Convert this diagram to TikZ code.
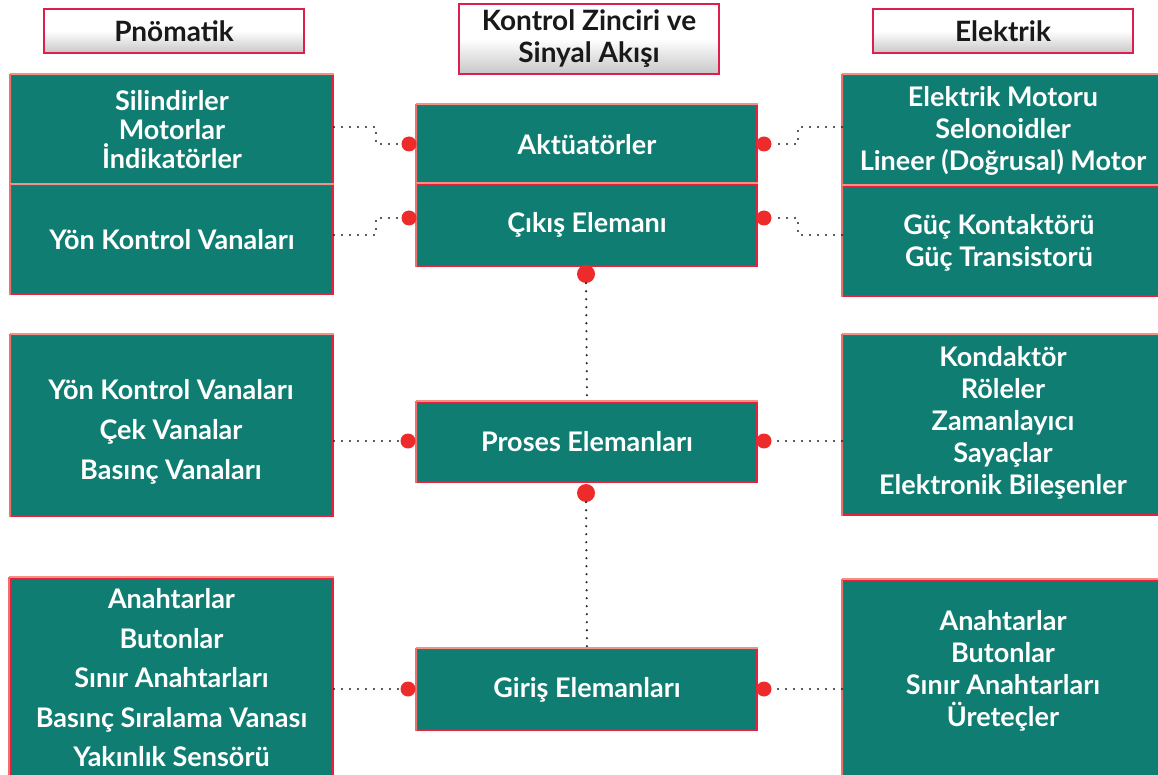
\documentclass[tikz,border=0pt]{standalone}
\usepackage{fontspec}
\setmainfont{Lato}
\definecolor{tealbox}{HTML}{0F7D72}
\definecolor{rededge}{HTML}{E8213F}
\definecolor{salmonedge}{HTML}{F39282}
\definecolor{dotred}{HTML}{EE2B2B}
\definecolor{hdredge}{HTML}{DC1F4C}
\newcommand{\bx}[1]{\fontsize{27}{#1}\selectfont\bfseries}
\begin{document}
\begin{tikzpicture}[x=1pt,y=-1pt,
  gbox/.style={fill=tealbox, draw=rededge, line width=2pt, inner sep=0pt, align=center,
    text=white, anchor=north west},
  gtext/.style={text=white, align=center, inner sep=0pt},
  hbox/.style={top color=white, bottom color=black!22, middle color=white, draw=hdredge,
    line width=2pt, inner sep=0pt, align=center, anchor=north west, text=black!90,
    font=\fontsize{28}{32}\selectfont\bfseries},
  rdot/.style={circle, fill=dotred, inner sep=0pt, minimum size=15pt},
  bigdot/.style={circle, fill=dotred, inner sep=0pt, minimum size=18pt},
  dotline/.style={line width=2.4pt, line cap=round, dash pattern=on 0pt off 8pt, black!85}]
\useasboundingbox (0,0) rectangle (1158,775);
\fill[white] (0,0) rectangle (1158,775);

% headers
\node[hbox, minimum width=260pt, minimum height=44pt] (hp) at (43,8) {Pnömatik};
\node[hbox, minimum width=260pt, minimum height=70pt] (hk) at (458,3) {Kontrol Zinciri ve\\Sinyal Akışı};
\node[hbox, minimum width=260pt, minimum height=44pt] (he) at (872,8) {Elektrik};

% left column
\node[gbox, minimum width=322pt, minimum height=109pt, font=\bx{29}] (L1) at (10,74) {Silindirler\\Motorlar\\İndikatörler};
\node[gbox, minimum width=322pt, minimum height=109pt, font=\bx{32}] (L2) at (10,184) {Yön Kontrol Vanaları};
\node[gbox, minimum width=322pt, minimum height=181pt] (L3) at (10,334) {};
\node[gtext, font=\bx{40}] (L3t) at (171,432) {Yön Kontrol Vanaları\\Çek Vanalar\\Basınç Vanaları};
\node[gbox, minimum width=323pt, minimum height=200pt, font=\bx{39.5}] (L4) at (9,577) {Anahtarlar\\Butonlar\\Sınır Anahtarları\\Basınç Sıralama Vanası\\Yakınlık Sensörü};

% center column
\node[gbox, minimum width=340pt, minimum height=79pt, font=\bx{32}] (akt) at (416,104) {Aktüatörler};
\node[gbox, minimum width=340pt, minimum height=82pt, font=\bx{32}] (cik) at (416,183) {Çıkış Elemanı};
\node[gbox, minimum width=340pt, minimum height=80pt, font=\bx{32}] (pro) at (416,401) {Proses Elemanları};
\node[gbox, minimum width=340pt, minimum height=81pt, font=\bx{32}] (gir) at (416,648) {Giriş Elemanları};

% right column
\node[gbox, minimum width=322pt, minimum height=110pt] (R1) at (842,74) {};
\node[gtext, font=\bx{32}] (R1t) at (1003,131) {Elektrik Motoru\\Selonoidler\\Lineer (Doğrusal) Motor};
\node[gbox, minimum width=322pt, minimum height=110pt] (R2) at (842,185) {};
\node[gtext, font=\bx{32}] (R2t) at (999,243) {Güç Kontaktörü\\Güç Transistorü};
\node[gbox, minimum width=322pt, minimum height=180pt] (R3) at (842,334) {};
\node[gtext, font=\bx{32}] (R3t) at (1003,423) {Kondaktör\\Röleler\\Zamanlayıcı\\Sayaçlar\\Elektronik Bileşenler};
\node[gbox, minimum width=322pt, minimum height=200pt] (R4) at (842,579) {};
\node[gtext, font=\bx{32}] (R4t) at (1003,671) {Anahtarlar\\Butonlar\\Sınır Anahtarları\\Üreteçler};

% salmon top edges
\foreach \n in {L1,L2,L3,L4,akt,cik,pro,gir,R1,R2,R3,R4}{
  \draw[salmonedge, line width=2.5pt] (\n.north west) -- (\n.north east);
  \draw[salmonedge!70!rededge, line width=2pt] (\n.north west) -- (\n.south west);
}

% dots
\node[rdot] (dal) at (409,144) {};
\node[rdot] (dar) at (764,144) {};
\node[rdot] (dcl) at (409,218) {};
\node[rdot] (dcr) at (764,218) {};
\node[rdot] (dpl) at (408,441) {};
\node[rdot] (dpr) at (764,441) {};
\node[rdot] (dgl) at (408,689) {};
\node[rdot] (dgr) at (764,689) {};
\node[bigdot] (dv1) at (586,274) {};
\node[bigdot] (dv2) at (586,493) {};

% connectors
\draw[dotline] (L1.east |- 0,127) -- (376,127) |- (dal);
\draw[dotline] (L2.east |- 0,235) -- (376,235) |- (dcl);
\draw[dotline] (R1.west |- 0,127) -- (798,127) |- (dar);
\draw[dotline] (R2.west |- 0,235) -- (798,235) |- (dcr);
\draw[dotline] (L3.east |- dpl) -- (dpl);
\draw[dotline] (R3.west |- dpr) -- (dpr);
\draw[dotline] (L4.east |- dgl) -- (dgl);
\draw[dotline] (R4.west |- dgr) -- (dgr);
\draw[dotline] (dv1) -- (pro.north);
\draw[dotline] (dv2) -- (gir.north);
\end{tikzpicture}
\end{document}
